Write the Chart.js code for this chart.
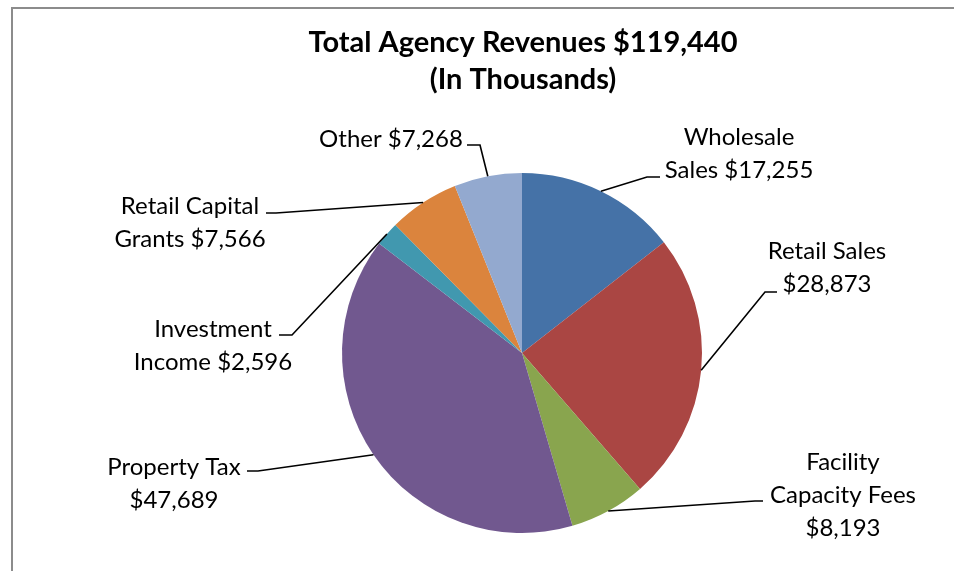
<!DOCTYPE html>
<html><head><meta charset="utf-8">
<script src="https://cdn.jsdelivr.net/npm/chart.js@4.4.0/dist/chart.umd.min.js"></script>
<style>html,body{margin:0;padding:0;background:#fff;} #wrap{width:954px;height:571px;position:relative;}</style>
</head><body><div id="wrap"><canvas id="c" width="954" height="571"></canvas></div>
<script>
const categories = ["Wholesale Sales","Retail Sales","Facility Capacity Fees","Property Tax","Investment Income","Retail Capital Grants","Other"];
const revenues = [17255, 28873, 8193, 47689, 2596, 7566, 7268];
const labelLines = [
  ["Wholesale","Sales $17,255"],
  ["Retail Sales","$28,873"],
  ["Facility","Capacity Fees","$8,193"],
  ["Property Tax","$47,689"],
  ["Investment","Income $2,596"],
  ["Retail Capital","Grants $7,566"],
  ["Other $7,268"]
];
const titleLines = ["Total Agency Revenues $119,440","(In Thousands)"];
const sliceColors = ["#4572A7","#AA4643","#89A54E","#71588F","#4198AF","#DB843D","#93A9CF"];

// label layout (pixels): text centre x, first-line centre y, stub [label-side x, elbow x, y]
const labelLayout = [
  {x:739, y:137, s:[660,647,177]},
  {x:827, y:251, s:[777,765,292]},
  {x:843, y:462, s:[763,755,501]},
  {x:174, y:467, s:[247,258,471]},
  {x:213, y:329, s:[279,292,335]},
  {x:190, y:206, s:[266,276,213]},
  {x:391, y:139, s:[467,480,145]}
];
const LABEL_FONT = "24px Lato";
const TITLE_FONT = "bold 29px Lato";
const LINE_H = 33;

const decor = {
  id:'decor',
  afterDraw(chart){
    const ctx = chart.ctx;
    ctx.save();
    ctx.strokeStyle = '#8c8c8c'; ctx.lineWidth = 2;
    ctx.beginPath(); ctx.moveTo(12, 571); ctx.lineTo(12, 8); ctx.lineTo(954, 8); ctx.stroke();
    ctx.fillStyle = '#000'; ctx.textAlign = 'center'; ctx.textBaseline = 'middle';
    ctx.font = TITLE_FONT;
    titleLines.forEach((t,i)=>ctx.fillText(t, 523, 43 + i*37));
    const meta = chart.getDatasetMeta(0);
    ctx.font = LABEL_FONT;
    meta.data.forEach((arc, i) => {
      const p = arc.getProps(['x','y','startAngle','endAngle','outerRadius'], true);
      const mid = (p.startAngle + p.endAngle)/2;
      const ex = p.x + Math.cos(mid)*p.outerRadius, ey = p.y + Math.sin(mid)*p.outerRadius;
      const L = labelLayout[i];
      ctx.strokeStyle = '#000'; ctx.lineWidth = 1.6;
      ctx.beginPath(); ctx.moveTo(L.s[0], L.s[2]); ctx.lineTo(L.s[1], L.s[2]); ctx.lineTo(ex, ey); ctx.stroke();
      labelLines[i].forEach((t,j)=>ctx.fillText(t, L.x, L.y + j*LINE_H));
    });
    ctx.restore();
  }
};

new Chart(document.getElementById('c'), {
  type:'pie',
  data:{ labels: categories, datasets:[{ data: revenues, backgroundColor: sliceColors, borderWidth: 0 }]},
  options:{
    responsive:false, animation:false,
    layout:{ padding:{ left:342, right:252, top:173, bottom:38 } },
    plugins:{ legend:{display:false}, tooltip:{enabled:false}, title:{display:false} }
  },
  plugins:[decor]
});
</script></body></html>
